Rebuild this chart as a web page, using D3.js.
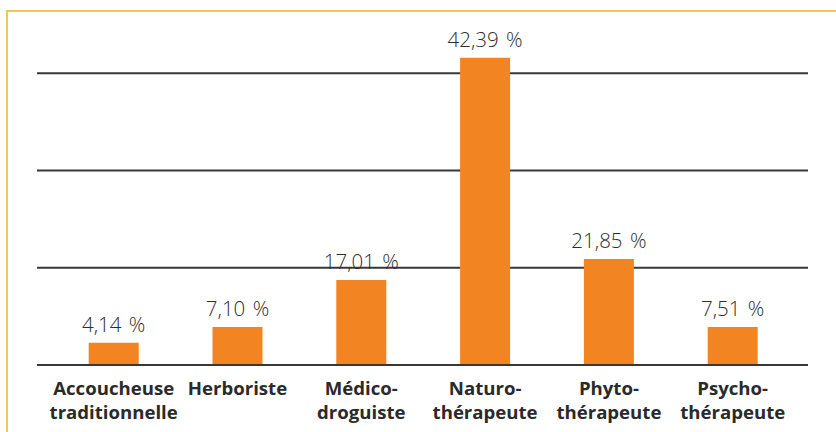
<!DOCTYPE html>
<html>
<head>
<meta charset="utf-8">
<script src="https://cdn.jsdelivr.net/npm/d3@7"></script>
<style>
  html, body { margin: 0; padding: 0; background: #fff; }
  svg { display: block; }
</style>
</head>
<body>
<script>
// Categories (two-line labels)
const categories = ["Accoucheuse traditionnelle", "Herboriste", "Médico-droguiste", "Naturo-thérapeute", "Phyto-thérapeute", "Psycho-thérapeute"];
const categoryLines = [
  ["Accoucheuse", "traditionnelle"],
  ["Herboriste"],
  ["Médico-", "droguiste"],
  ["Naturo-", "thérapeute"],
  ["Phyto-", "thérapeute"],
  ["Psycho-", "thérapeute"]
];
// Printed values (%)
const values = [4.14, 7.10, 17.01, 42.39, 21.85, 7.51];
// Bar lengths as drawn in the original picture, in gridline units (gridlines at 10, 20, 30)
const barLengths = [2.29, 3.91, 8.74, 31.6, 10.9, 3.91];
const gridTicks = [0, 10, 20, 30];

const W = 836, H = 432;
const svg = d3.select("body").append("svg").attr("width", W).attr("height", H);

// Frame (yellow border, top and left)
svg.append("line").attr("x1", 7).attr("x2", W).attr("y1", 11).attr("y2", 11)
  .attr("stroke", "#efc75e").attr("stroke-width", 2);
svg.append("line").attr("x1", 7).attr("x2", 7).attr("y1", 10).attr("y2", H)
  .attr("stroke", "#efc75e").attr("stroke-width", 2);

const x = d3.scaleBand().domain(categories).range([51.8, 794.6])
  .paddingInner(0.596).paddingOuter(0.298);
const y = d3.scaleLinear().domain([0, 30]).range([365, 73.3]);

// Gridlines
svg.append("g").selectAll("line").data(gridTicks).join("line")
  .attr("x1", 37).attr("x2", 808)
  .attr("y1", d => y(d)).attr("y2", d => y(d))
  .attr("stroke", "#383838").attr("stroke-width", 2);

// Bars
svg.append("g").selectAll("rect").data(categories).join("rect")
  .attr("x", d => x(d))
  .attr("width", x.bandwidth())
  .attr("y", (d, i) => y(barLengths[i]))
  .attr("height", (d, i) => y(0) - 1 - y(barLengths[i]))
  .attr("fill", "#f28522");

// Value labels
const fmt = v => v.toFixed(2).replace(".", ",") + "\u00a0%";
svg.append("g").selectAll("text").data(categories).join("text")
  .attr("x", d => x(d) + x.bandwidth() / 2)
  .attr("y", (d, i) => y(barLengths[i]) - 11)
  .attr("text-anchor", "middle")
  .attr("font-family", "'Open Sans', sans-serif")
  .attr("font-weight", 300)
  .attr("font-size", 20.5)
  .attr("word-spacing", 2)
  .attr("fill", "#2e2e2e")
  .text((d, i) => fmt(values[i]));

// Category labels
const cg = svg.append("g");
categories.forEach((c, i) => {
  const t = cg.append("text")
    .attr("x", x(c) + x.bandwidth() / 2)
    .attr("y", 395)
    .attr("text-anchor", "middle")
    .attr("font-family", "'Open Sans', sans-serif")
    .attr("font-weight", "bold")
    .attr("font-size", 18.6)
    .attr("fill", "#2a2a2a");
  categoryLines[i].forEach((ln, j) => {
    t.append("tspan").attr("x", x(c) + x.bandwidth() / 2)
      .attr("y", 395 + j * 23.5).text(ln);
  });
});
</script>
</body>
</html>
